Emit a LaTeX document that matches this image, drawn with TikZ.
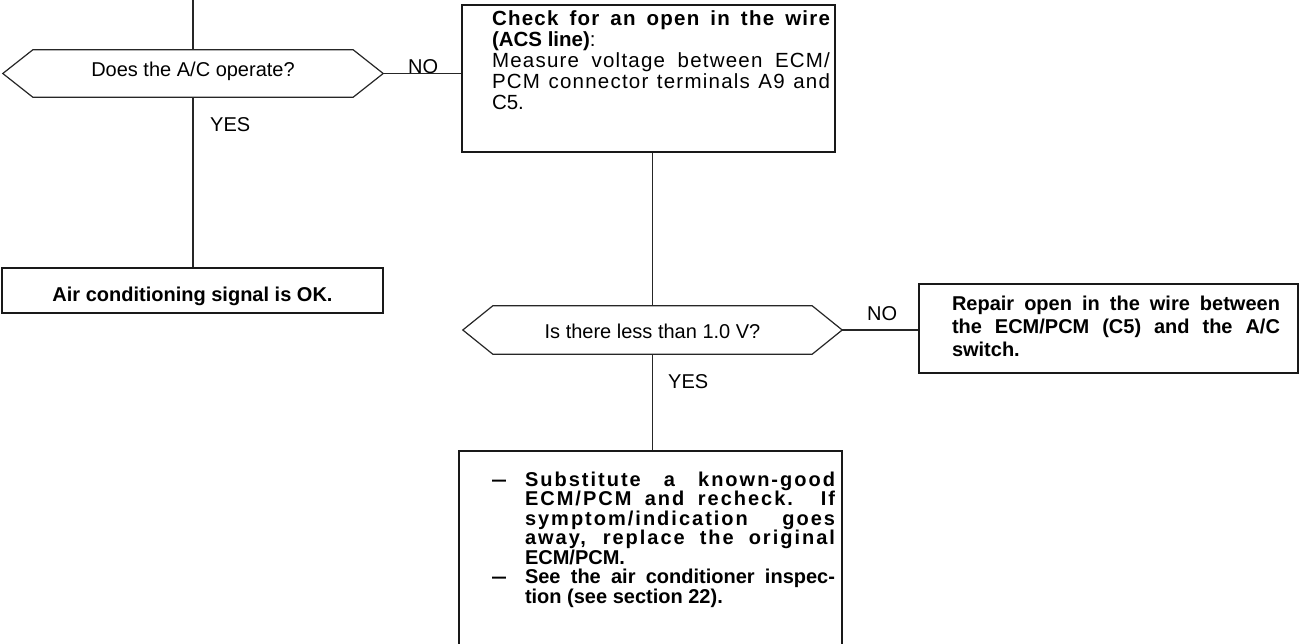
\documentclass[tikz,border=0pt]{standalone}
\usepackage{fontspec}
\usepackage{graphicx}
\setmainfont{Liberation Sans}
\newcommand\myls{\addfontfeatures{LetterSpace=10}}
\newcommand\mylsb{\addfontfeatures{LetterSpace=6}}
\newcommand\mylsr{\addfontfeatures{LetterSpace=6}}
\newcommand\mydash{\scalebox{0.7}[1]{—}}
\begin{document}
\begin{tikzpicture}[x=1pt,y=-1pt,
  conn/.style={draw=black!85, line width=1.2pt},
  box/.style={draw=black!90, line width=1.2pt, rectangle, inner sep=0pt},
  dec/.style={rectangle, inner sep=0pt, font=\fontsize{20}{24}\selectfont},
  lab/.style={font=\fontsize{20}{24}\selectfont, inner sep=0pt, anchor=base west},
]
\useasboundingbox (0,0) rectangle (1302,643);
\fill[white] (0,0) rectangle (1302,643);
\clip (0,0) rectangle (1302,643);

% decisions
\node[dec, minimum width=380pt, minimum height=47pt, text height=12.5pt, text depth=7.5pt] (d1) at (193,73.5) {Does the A/C operate?};
\node[dec, minimum width=379pt, minimum height=48pt, text height=16pt, text depth=0pt] (d2) at (652.5,330) {Is there less than 1.0 V?};
\foreach \n in {d1,d2}{
  \draw[conn] (\n.west) -- ([xshift=30pt]\n.north west) -- ([xshift=-30pt]\n.north east) -- (\n.east) -- ([xshift=-30pt]\n.south east) -- ([xshift=30pt]\n.south west) -- cycle;
}

% boxes
\node[box] (b1) at (648.5,78.5) {\parbox[c][147pt][t]{373pt}{\fontsize{20.5}{21}\selectfont\rule{0pt}{20pt}\hspace*{30pt}\makebox[338pt][s]{\bfseries\mylsb Check for an open in the wire}\\
\hspace*{30pt}\textbf{(ACS line)}:\\
\hspace*{30pt}\makebox[338pt][s]{\mylsr Measure voltage between ECM/}\\
\hspace*{30pt}\makebox[338pt][s]{\mylsr PCM connector terminals A9 and}\\
\hspace*{30pt}C5.}};

\node[box] (b2) at (192.5,290.5) {\parbox[c][45pt][t]{381pt}{\centering\fontsize{20}{24}\selectfont\bfseries\rule{0pt}{33pt}Air conditioning signal is OK.}};

\node[box] (b3) at (1108.5,328.5) {\parbox[c][89pt][t]{379pt}{\fontsize{20}{23.3}\selectfont\bfseries\rule{0pt}{26pt}\hspace*{33pt}\makebox[328pt][s]{Repair open in the wire between}\\
\hspace*{33pt}\makebox[328pt][s]{the ECM/PCM (C5) and the A/C}\\
\hspace*{33pt}switch.}};

\node[box] (b4) at (650.5,556) {\parbox[c][210pt][t]{383pt}{\fontsize{20}{19.5}\selectfont\bfseries\rule{0pt}{35pt}\hspace*{33pt}\makebox[33pt][l]{\mydash}\makebox[310pt][s]{\myls Substitute a known-good}\\
\hspace*{66pt}\makebox[310pt][s]{\myls ECM/PCM and recheck. If}\\
\hspace*{66pt}\makebox[310pt][s]{\myls symptom/indication goes}\\
\hspace*{66pt}\makebox[310pt][s]{\myls away, replace the original}\\
\hspace*{66pt}ECM/PCM.\\
\hspace*{33pt}\makebox[33pt][l]{\mydash}\makebox[310pt][s]{See the air conditioner inspec-}\\
\hspace*{66pt}tion (see section 22).}};

% labels
\node[lab] (no1) at (408,73) {NO};
\node[lab] (yes1) at (210,131) {YES};
\node[lab] (no2) at (867,320) {NO};
\node[lab] (yes2) at (668,388) {YES};

% connectors
\coordinate (top) at (193,0);
\draw[conn] (top) -- (d1.north);
\draw[conn] (d1.east) -- (d1.east -| b1.west);
\draw[conn] (d1.south) -- (d1.south |- b2.north);
\draw[conn] (b1.south -| d2.north) -- (d2.north);
\draw[conn] (d2.east) -- (d2.east -| b3.west);
\draw[conn] (d2.south) -- (d2.south |- b4.north);
\end{tikzpicture}
\end{document}
